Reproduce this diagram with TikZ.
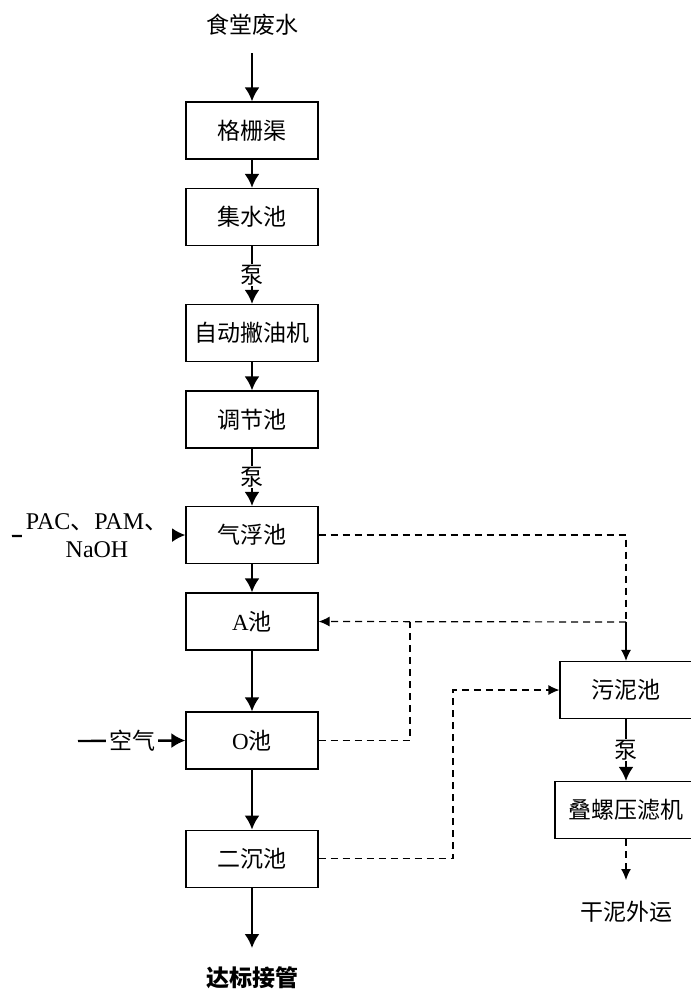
\documentclass[tikz,border=0pt]{standalone}
\usepackage{fontspec}
\setmainfont{Liberation Serif}
\newfontfamily\cjk{Noto Sans CJK SC}
\usetikzlibrary{arrows.meta}

\begin{document}
\begin{tikzpicture}[x=1pt,y=-1pt,font=\cjk\fontsize{23}{28}\selectfont,
pool/.style={draw,line width=1.2pt,minimum width=132pt,minimum height=57pt,inner sep=2pt},
flow/.style={-{Latex[length=14pt,width=15pt]},line width=2.4pt},
sludge/.style={-{Latex[length=11pt,width=10pt]},line width=1.2pt,dash pattern=on 7pt off 5pt},
pump/.style={fill=white,inner sep=1pt}]
\useasboundingbox (0,0) rectangle (691,989);
\node (src) at (252,25) {食堂废水};
\node[pool] (grid) at (252,130.5) {格栅渠};
\node[pool] (coll) at (252,217) {集水池};
\node[pool] (skim) at (252,333) {自动撇油机};
\node[pool] (eq) at (252,419.5) {调节池};
\node[pool] (float) at (252,535) {气浮池};
\node[pool] (anox) at (252,621.5) {{\rmfamily A}池};
\node[pool] (oxic) at (252,740.5) {{\rmfamily O}池};
\node[pool] (sec) at (252,858.7) {二沉池};
\node[font=\cjk\bfseries\fontsize{23}{28}\selectfont] (out) at (252,978) {达标接管};
\node[pool] (mud) at (626,690) {污泥池};
\node[pool,minimum width=142pt] (press) at (626,810) {叠螺压滤机};
\node (cake) at (626,912) {干泥外运};
\coordinate (chemin) at (12,536);
\coordinate (airin) at (78,741);
\coordinate (jA) at (626,622);
\coordinate (jO) at (410,622);
\coordinate (jS) at (453,690);
\coordinate (outtip) at (252,948);
\coordinate (caketip) at (626,880);
\draw[flow] ([yshift=-14pt]src.south) -- (grid);
\draw[flow] (grid) -- (coll);
\draw[flow] (coll) -- (skim) node[pump,midway]{泵};
\draw[flow] (skim) -- (eq);
\draw[flow] (eq) -- (float) node[pump,midway]{泵};
\draw[flow] (float) -- (anox);
\draw[flow] (anox) -- (oxic);
\draw[flow] (oxic) -- (sec);
\draw[flow] (sec) -- (outtip);
\draw[flow] (chemin) -- (float.west);
\node[fill=white,align=center,minimum width=150pt,inner sep=1pt,font=\rmfamily\fontsize{24}{28}\selectfont] (chem) at (97,536) {PAC{\cjk 、}PAM{\cjk 、}\\NaOH};
\draw[flow] (airin) -- (oxic.west);
\node[fill=white,inner xsep=3pt,inner ysep=1pt] (air) at (132,741) {空气};
\draw[sludge,-] (float.east) -| (jA);
\draw[-{Latex[length=11pt,width=10pt]},line width=1.2pt] (jA) -- (mud.north);
\draw[sludge] (jA) -- (anox.east);
\draw[sludge,-] (oxic.east) -| (jO);
\draw[sludge] (sec.east) -| (jS) -- (mud.west);
\draw[flow] (mud) -- (press) node[pump,midway]{泵};
\draw[sludge] (press) -- (caketip);
\end{tikzpicture}
\end{document}
